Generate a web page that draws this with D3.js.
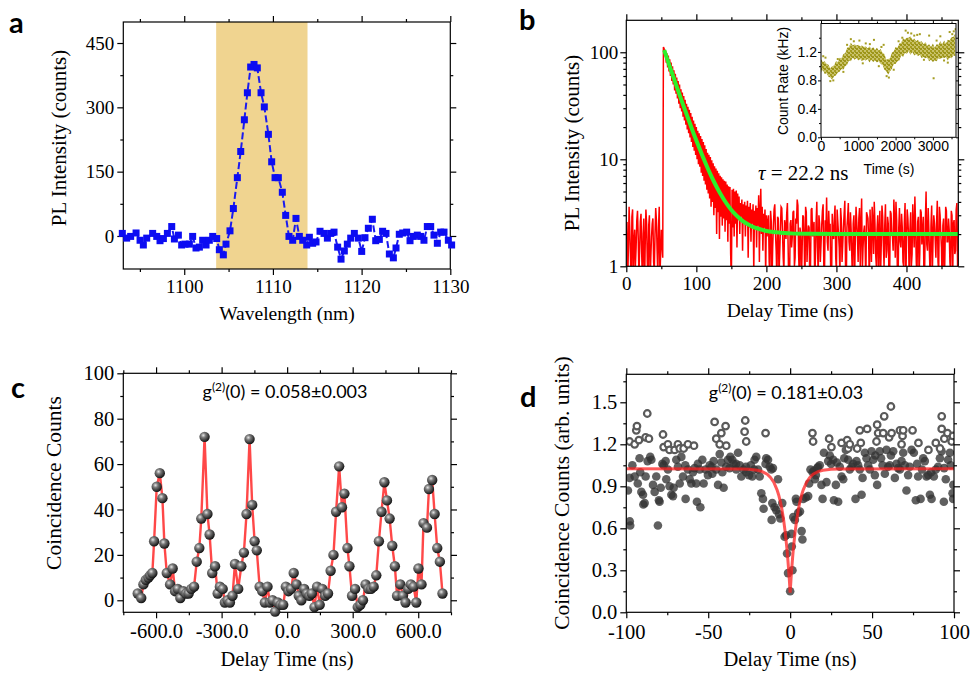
<!DOCTYPE html>
<html>
<head>
<meta charset="utf-8">
<script src="https://cdn.jsdelivr.net/npm/d3@7"></script>
<style>
  body { margin: 0; background: #fff; }
</style>
</head>
<body>
<svg id="fig" width="971" height="673"></svg>
<script>

// ---------- panel a : PL spectrum ----------
var aWave = [1093.02,1093.51,1093.96,1094.57,1095.02,1095.39,1095.77,1096.44,1096.90,1097.27,
  1097.65,1098.10,1098.59,1098.89,1099.34,1099.71,1100.09,1100.58,1100.95,1101.33,
  1101.71,1102.08,1102.46,1102.83,1103.21,1103.66,1103.96,1104.41,1104.71,1105.16,
  1105.54,1105.99,1106.37,1106.78,1107.12,1107.49,1107.87,1108.24,1108.66,1109.03,
  1109.49,1109.86,1110.24,1110.61,1111.06,1111.44,1111.81,1112.23,1112.60,1112.98,
  1113.36,1113.81,1114.11,1114.48,1114.86,1115.31,1115.76,1116.14,1116.51,1116.89,
  1117.30,1117.68,1118.05,1118.39,1118.77,1119.18,1119.63,1120.01,1120.38,1120.76,
  1121.21,1121.59,1122.00,1122.37,1122.75,1123.13,1123.58,1123.88,1124.25,1124.63,
  1125.08,1125.46,1125.83,1126.28,1126.66,1127.03,1127.41,1127.79,1128.16,1128.54,
  1128.91,1129.29,1129.78,1130.15];
var aCounts = [6,-5,-1,7,-10,-21,-5,6,-1,-11,
  -6,6,22,-7,2,-21,-19,-19,-1,-28,
  -26,-10,-21,-10,-1,-6,-32,-44,-19,12,
  64,136,197,271,334,394,400,392,334,301,
  237,173,136,136,102,48,-1,-10,41,-1,
  -10,-21,-3,-17,-14,11,6,-5,6,9,
  -26,-54,-35,-19,-5,6,-5,-36,-4,18,
  39,-11,-8,11,6,-42,-51,-28,4,7,
  9,-11,-1,2,-1,-10,22,22,2,-17,
  9,9,-10,-21];
var aBand = [1103.6, 1113.9];

// ---------- panel b : PL decay histogram, 1 ns bins starting at 0 ns ----------
var bBinNs = 1;
var bCounts = [
  // 0 - 51 ns, background before the pulse
  1.8,2.6,0.7,1.5,3.6,2.2,1.2,0.6,2.9,3.4,0.6,1.7,2.2,1.0,1.5,2.7,3.3,1.9,0.8,1.4,
  2.6,3.1,1.3,0.7,2.0,2.8,0.6,1.6,3.4,2.5,1.1,0.7,2.4,3.0,0.7,1.2,1.9,2.5,2.8,1.1,
  0.9,2.0,3.5,2.7,1.4,0.8,2.3,3.6,0.8,1.3,2.2,1.6,
  // 52 - 53 ns, rising edge
  1.2,112,
  // 54 - 200 ns, decay
  108,92,104,80,98,72,93,66,86,60,80,54,74,50,68,44,63,41,58,37,
  54,33,50,30,45,28,42,25,39,23,36,21,33,19,31,17.5,29,16,27,14.5,
  25,13,23,12,21.5,11,20,10,18.5,9,17.5,8.5,16.5,7.5,15.5,7.0,14.5,6.3,13.5,5.8,
  12.5,5.2,11.5,4.8,11,4.3,10.5,3.6,9.8,4.0,9.2,3.0,8.6,3.5,8.2,2.0,7.8,3.2,7.4,1.8,
  7.0,2.9,6.8,2.4,6.5,2.8,6.3,2.1,6.2,2.7,5.8,1.7,5.6,2.5,5.5,1.3,0.7,5.2,2.3,5.3,
  1.9,5.0,2.5,5.1,1.5,4.8,2.7,4.5,2.0,3.9,2.9,4.2,1.4,3.8,2.5,4.0,1.9,3.7,2.6,4.1,
  1.2,3.6,2.3,3.9,1.7,3.4,2.5,3.8,0.9,3.3,2.2,3.7,1.5,3.5,2.4,4.6,1.1,3.2,5.3,2.0,
  3.6,1.4,3.1,2.3,3.4,0.8,3.0,
  // 201 - 474 ns, background tail
  1.9,2.6,3.0,1.1,0.8,3.3,2.6,0.7,1.5,2.4,3.4,3.8,2.0,1.4,0.7,2.9,2.8,0.8,1.3,2.2,
  3.6,3.5,2.1,1.2,0.9,2.7,2.4,1.8,3.1,3.9,1.6,0.6,0.6,2.5,2.7,1.5,1.9,3.2,3.3,1.0,
  1.2,2.8,2.5,4.2,3.7,1.3,0.8,2.3,2.0,0.7,1.4,3.0,2.9,1.7,0.6,3.6,3.2,1.1,1.8,2.4,
  2.3,0.6,1.0,3.4,3.5,1.9,2.2,2.6,0.7,1.2,2.6,4.0,1.5,0.8,3.0,2.5,1.1,1.6,2.4,3.3,
  3.8,1.0,0.9,2.7,2.1,4.4,1.7,1.4,3.3,2.1,2.5,0.7,0.6,3.1,1.9,1.8,2.8,3.7,1.2,0.9,
  3.4,2.6,2.0,1.5,0.8,3.5,2.7,1.1,1.6,2.3,3.1,4.1,1.0,0.6,2.3,2.9,3.9,1.7,1.4,3.2,
  2.2,1.2,0.7,2.5,3.0,0.8,1.8,3.6,2.6,1.9,1.1,2.8,3.5,1.0,2.4,4.3,0.9,1.5,2.1,2.4,
  1.5,0.7,3.2,3.0,2.8,1.8,0.6,3.4,1.9,1.1,3.6,2.6,1.3,4.0,2.5,1.3,1.0,2.2,3.0,0.6,
  2.2,3.3,0.8,1.6,3.7,2.9,1.6,1.0,2.4,3.8,1.2,1.4,2.9,2.5,0.7,0.8,3.3,3.1,2.0,1.9,
  1.4,4.2,2.7,1.2,4.0,2.7,0.9,0.7,2.3,3.5,1.7,1.5,3.1,2.3,1.1,1.0,2.6,3.9,0.6,1.7,
  3.4,2.8,1.9,0.6,2.2,3.2,1.0,1.3,3.8,2.4,1.5,4.5,2.5,1.1,0.8,2.6,2.9,0.8,1.3,3.4,
  3.2,1.6,2.1,2.9,0.7,1.0,2.7,5.0,1.6,1.4,3.5,2.2,1.2,0.7,2.4,3.7,0.9,1.8,3.0,2.5,
  1.8,1.2,2.6,4.1,1.1,0.9,3.6,3.0,2.0,1.5,0.6,2.4,2.8,0.6,1.4,3.6,3.3,1.7,1.7,2.8,
  2.2,1.1,0.9,3.3,3.0,0.8,2.5,2.7,1.3,1.4,3.4,3.9,1.0,1.2];
// fitted mono-exponential (tau = 22.2 ns)
var bFitT = [54,56,60,65,70,75,80,85,90,95,100,105,110,115,120,125,130,135,140,145,150,155,160,165,170,175,180,190,200,210,220,240,260,300,474];
var bFitV = [105,96.1,80.6,64.7,52.1,42.0,33.9,27.5,22.4,18.2,15.0,12.4,10.3,8.6,7.26,6.20,5.36,4.68,4.14,3.71,3.36,3.09,2.87,2.69,2.55,2.44,2.35,2.23,2.14,2.09,2.06,2.02,2.01,2.0,2.0];

// inset: count rate trace (envelope of the dense cloud, 50 s steps)
var insetT = [0,50,100,150,200,250,300,350,400,450,500,550,600,650,700,750,800,850,900,950,
  1000,1050,1100,1150,1200,1250,1300,1350,1400,1450,1500,1550,1600,1650,1700,1750,1800,1850,1900,1950,
  2000,2050,2100,2150,2200,2250,2300,2350,2400,2450,2500,2550,2600,2650,2700,2750,2800,2850,2900,2950,
  3000,3050,3100,3150,3200,3250,3300,3350,3400,3450,3500,3550,3600];
var insetLo = [0.91,0.95,0.89,0.90,0.85,0.84,0.81,0.86,0.87,0.91,0.92,0.96,0.95,1.00,1.02,1.08,1.07,1.12,1.09,1.11,
  1.08,1.10,1.07,1.09,1.08,1.10,1.05,1.09,1.06,1.08,1.05,1.07,1.03,1.02,0.95,0.93,0.88,0.93,0.96,1.03,
  1.03,1.07,1.08,1.15,1.13,1.19,1.17,1.21,1.16,1.20,1.15,1.17,1.14,1.16,1.11,1.13,1.11,1.12,1.07,1.09,
  1.06,1.08,1.07,1.11,1.10,1.12,1.11,1.13,1.08,1.12,1.11,1.15,1.14];
var insetHi = [1.10,1.06,1.07,1.03,1.02,0.97,1.00,1.01,1.07,1.06,1.12,1.11,1.17,1.18,1.26,1.27,1.33,1.29,1.31,1.29,
  1.30,1.28,1.29,1.27,1.28,1.25,1.28,1.24,1.27,1.23,1.26,1.22,1.24,1.19,1.17,1.09,1.10,1.11,1.19,1.21,
  1.27,1.26,1.32,1.33,1.39,1.38,1.40,1.40,1.42,1.37,1.39,1.35,1.37,1.34,1.35,1.31,1.34,1.29,1.31,1.27,
  1.32,1.26,1.31,1.30,1.35,1.31,1.36,1.32,1.37,1.36,1.41,1.41,1.46];
var insetOddT = [60,120,250,330,450,600,700,800,880,1030,1120,1200,1310,1420,1550,1620,1680,1760,1820,1950,
  2080,2180,2270,2330,2420,2500,2580,2650,2760,2900,3020,3100,3200,3300,3400,3450,3520,3560,3610];
var insetOddV = [1.14,1.12,0.79,0.80,1.10,0.92,1.30,1.38,1.35,1.36,1.04,1.32,1.31,1.37,1.00,1.27,1.30,0.86,0.84,0.95,
  1.35,1.40,1.50,1.47,1.46,1.43,1.44,1.45,1.09,1.43,0.83,1.36,1.42,1.08,1.05,1.48,1.45,1.49,1.52];

// ---------- panel c : g2 with pulsed excitation ----------
var cT = [-684,-668,-658,-647,-635,-627,-617,-609,-597,-583,
  -571,-562,-551,-536,-524,-513,-501,-489,-475,-463,
  -451,-439,-426,-414,-402,-393,-378,-365,-355,-343,
  -330,-318,-308,-295,-285,-273,-262,-250,-239,-224,
  -210,-198,-186,-172,-160,-149,-139,-126,-114,-102,
  -90,-79,-67,-55,-43,-30,-18,-6,6,18,
  30,43,53,65,78,90,102,113,125,137,
  149,161,174,187,199,212,224,238,251,262,
  276,285,297,311,323,335,347,359,372,384,
  396,408,420,432,445,457,469,481,493,503,
  518,530,542,554,566,579,591,601,615,624,
  640,649,664,675,687,699,711];
var cCounts = [3,1,7,9,10,11,12,26,50,56,
  45,25,12,7,14,4,5,1,4,3,
  3,5,6,17,23,36,72,38,29,12,
  15,3,6,5,-1,0,-1,2,16,5,
  15,21,38,71,42,26,22,6,4,-1,
  6,-1,0,-5,-1,-2,-2,6,4,5,
  12,7,2,0,5,3,2,3,-3,6,
  -2,5,2,3,13,20,39,59,41,47,
  23,15,2,5,-3,-2,0,7,5,5,
  6,11,26,39,52,44,36,24,15,2,
  7,2,-1,5,7,6,-1,14,7,34,
  32,49,53,38,23,17,3];

// ---------- panel d : g2 with cw excitation ----------
var dSolidT = [-99,-98,-97.9,-97.6,-96.3,-94.9,-93,-91.9,-91.5,-90.8,-89.8,-89.6,-88.8,-88.2,-87,-85.4,-84.7,-83.7,-82.7,-81.7,
  -80.7,-80.1,-79.7,-79,-78,-77.2,-76,-75.6,-74.6,-73.6,-72.5,-71.5,-71.1,-69.5,-68.5,-67.4,-66.4,-65.4,-64,-63.8,
  -62.4,-61.3,-60.3,-59.3,-58.3,-57.3,-56.9,-56.3,-55.2,-54.8,-53.6,-52.8,-51.6,-50.2,-49.1,-48,-47.5,-46.7,-45.1,-44,
  -43,-42,-41.4,-40.6,-39,-38,-37,-36.5,-35.3,-34.5,-33,-32.9,-31.8,-30.8,-29.8,-28.4,-27,-26.8,-25.1,-24,
  -23.1,-22,-21.7,-20.7,-19.6,-18.6,-17.6,-16.6,-16.2,-15,-14.6,-13.5,-12.5,-11.5,-11.3,-10.9,-10.5,-9.5,-8.5,-7.4,
  -6.8,-6,-4.8,-3.4,-2.4,-1.9,-1.3,0,
  0.8,1.0,1.4,1.9,2.9,3.5,3.9,4.9,6,7,7.5,8,9.6,11,11.6,12.4,13.7,14.5,15.1,15.7,
  16.5,17.1,18.1,19.1,19.8,20.6,22.2,23.2,24.2,25,26.3,26.7,27.9,28.5,29.3,30.3,31.4,32.4,33,34,
  35.4,36.4,37.5,38.5,39.9,40.5,41.5,42.5,43.6,44.2,45.6,46.6,47.6,48.6,49.7,50.7,51.7,52,53.1,54.7,
  55.5,56.4,57.8,58.8,59.8,60.8,61.5,62.9,63.9,64.9,65.9,67,68,69,70,71,72,73,74.1,75.5,
  76.7,77.5,78.1,79.6,80.5,81.2,82.2,83.2,84.3,85.3,86,86.3,87.7,88.9,90.3,91.4,92.4,93.8,94,95,
  96.4,97.5,98,99.1,99.5,99.6];
var dSolidV = [0.87,0.96,0.65,0.62,1.05,0.97,0.92,1.10,1.00,0.86,0.84,0.77,0.78,0.97,1.08,1.11,1.09,0.91,0.86,0.97,
  0.62,0.80,0.79,0.89,1.06,1.05,1.08,0.95,1.02,0.90,0.84,0.83,0.89,1.09,1.04,0.92,1.11,0.97,1.05,0.81,
  1.02,0.95,0.92,1.00,1.03,0.92,0.79,1.06,1.02,0.75,1.09,0.92,1.02,0.98,1.05,1.04,0.99,1.08,1.02,0.91,
  1.13,1.07,1.00,0.89,1.04,1.09,1.03,1.11,1.09,1.06,1.06,1.02,1.14,1.05,0.97,1.02,1.04,1.00,0.98,1.05,
  0.97,1.02,1.09,1.11,1.02,0.97,0.85,0.81,0.74,1.06,1.10,1.09,1.04,1.02,0.66,0.78,1.03,0.75,0.73,0.95,
  0.70,0.67,0.78,0.54,0.55,0.42,0.28,0.15,
  0.56,0.47,0.30,0.68,0.66,0.81,0.79,0.71,0.72,0.58,0.52,0.81,0.82,0.83,0.92,1.02,1.00,1.01,0.95,0.98,
  1.03,1.04,1.05,0.91,0.81,1.14,0.93,1.08,1.12,1.06,1.09,0.80,0.91,1.07,0.79,1.04,0.97,0.95,1.10,1.16,
  1.09,1.02,1.04,1.06,0.81,1.08,1.05,1.02,0.84,0.96,1.14,1.10,1.05,1.02,1.15,1.09,0.98,1.12,0.91,1.15,
  1.10,1.05,0.99,1.16,1.04,1.05,1.12,1.15,0.96,1.06,1.03,1.02,1.08,1.14,1.05,0.87,0.98,1.04,1.16,1.14,
  0.80,1.06,0.97,0.81,1.02,1.10,1.08,0.97,0.98,0.84,1.00,0.81,0.97,1.02,1.04,1.10,1.15,0.79,1.03,0.95,
  1.09,1.14,1.05,0.85,0.81,0.91];
var dOpenT = [-98,-94.9,-93.9,-93.5,-92.3,-88.2,-87.2,-86.2,-77.6,-77.2,-74.6,-73.6,-70.5,-68.5,-67.4,-65,-62.4,-58.7,
  -46.1,-45.1,-43,-42,-39.4,-39,-27.8,-27.4,-26.8,-15,
  13.6,14,23.8,25.2,31.4,34.8,35.4,36.4,40.9,42.5,43.1,47,52.7,53.1,53.7,56.8,57.4,60.4,61.5,61.9,
  67,68,68.6,69,74.7,78.3,84.4,88.9,91.5,92.5,92.5,94.1,96,98.6,99.4];
var dOpenV = [1.22,1.20,1.30,1.33,1.23,1.25,1.42,1.24,1.27,1.18,1.20,1.16,1.16,1.20,1.17,1.17,1.20,1.19,
  1.36,1.24,1.20,1.28,1.33,1.19,1.29,1.37,1.22,1.28,
  1.28,1.22,1.24,1.18,1.21,1.23,1.17,1.20,1.17,1.30,1.21,1.31,1.22,1.34,1.28,1.28,1.40,1.25,1.47,1.28,
  1.30,1.20,1.26,1.30,1.30,1.21,1.16,1.21,1.17,1.40,1.31,1.24,1.28,1.22,1.26];
// fitted antibunching dip
var dFitT = [-100,-30,-25,-20,-17,-14,-12,-10,-8,-7,-6,-5,-4,-3,-2,-1.5,-1,-0.5,0,0.5,1,1.5,2,3,4,5,6,7,8,10,12,14,17,20,25,30,100];
var dFitV = [1.025,1.024,1.022,1.015,1.005,0.986,0.963,0.929,0.875,0.838,0.791,0.734,0.661,0.571,0.458,0.390,0.316,0.233,0.14,
  0.233,0.316,0.390,0.458,0.571,0.661,0.734,0.791,0.838,0.875,0.929,0.963,0.986,1.005,1.015,1.022,1.024,1.025];

var serif = "'Liberation Serif', 'Times New Roman', serif";
var sans = "'Liberation Sans', Arial, sans-serif";
var svg = d3.select("#fig");
var defs = svg.append("defs");

// Draw a closed frame with outward major/minor ticks on all four sides
function drawFrame(x, y, o) {
    var xr = x.range(), yr = y.range();
    var g = svg.append("g");
    var blank = function() { return ""; };
    var sides = [
        { axis: d3.axisBottom, s: x, major: o.xMajor, minor: o.xMinor, fmt: o.xFmt, pad: o.xPad, pos: "translate(0," + yr[0] + ")" },
        { axis: d3.axisTop, s: x, major: o.xMajor, minor: o.xMinor, fmt: blank, pad: 3, pos: "translate(0," + yr[1] + ")" },
        { axis: d3.axisLeft, s: y, major: o.yMajor, minor: o.yMinor, fmt: o.yFmt, pad: o.yPad, pos: "translate(" + xr[0] + ",0)" },
        { axis: d3.axisRight, s: y, major: o.yMajor, minor: o.yMinor, fmt: blank, pad: 3, pos: "translate(" + xr[1] + ",0)" }
    ];
    sides.forEach(function(d) {
        g.append("g").attr("transform", d.pos)
            .call(d.axis(d.s).tickValues(d.major).tickSize(o.tick).tickPadding(d.pad).tickFormat(d.fmt));
        g.append("g").attr("transform", d.pos)
            .call(d.axis(d.s).tickValues(d.minor).tickSize(o.minorTick).tickFormat(blank));
    });
    g.selectAll(".domain").remove();
    g.selectAll(".tick line").attr("stroke", "#000").attr("stroke-width", o.lw);
    g.selectAll(".tick text")
        .attr("font-family", o.font)
        .attr("font-size", o.size)
        .attr("fill", "#000");
    g.append("rect")
        .attr("x", xr[0]).attr("y", yr[1])
        .attr("width", xr[1] - xr[0]).attr("height", yr[0] - yr[1])
        .attr("fill", "none").attr("stroke", "#000").attr("stroke-width", o.lw);
    return g;
}

function clipTo(id, x, y) {
    var xr = x.range(), yr = y.range();
    defs.append("clipPath").attr("id", id).append("rect")
        .attr("x", xr[0]).attr("y", yr[1])
        .attr("width", xr[1] - xr[0]).attr("height", yr[0] - yr[1]);
    return "url(#" + id + ")";
}

function axisTitle(x, y, text, rotate, size) {
    svg.append("text")
        .attr("transform", "translate(" + x + "," + y + ")" + (rotate ? " rotate(-90)" : ""))
        .attr("text-anchor", "middle")
        .attr("font-family", serif)
        .attr("font-size", size)
        .text(text);
}

function panelLetter(x, y, t) {
    svg.append("text").attr("x", x).attr("y", y)
        .attr("font-family", "Lato, 'Open Sans', sans-serif")
        .attr("font-weight", "bold")
        .attr("font-size", 29)
        .text(t);
}

function g2Label(cx, y, value) {
    var t = svg.append("text").attr("x", cx).attr("y", y)
        .attr("text-anchor", "middle")
        .attr("font-family", "Lato, 'Open Sans', sans-serif")
        .attr("font-size", 18);
    t.append("tspan").text("g");
    t.append("tspan").attr("dy", -7).attr("font-size", 12).text("(2)");
    t.append("tspan").attr("dy", 7).text("(0) = " + value);
}

function opts(size, extra) {
    return Object.assign({ tick: 6, minorTick: 3, lw: 1.2, font: serif, size: size }, extra);
}

// ================= panel a =================
var ax = d3.scaleLinear().domain([1093.13, 1130]).range([123.3, 450.3]);
var ay = d3.scaleLinear().domain([-77, 499]).range([269, 22]);

svg.append("rect")
    .attr("x", ax(aBand[0])).attr("y", 22)
    .attr("width", ax(aBand[1]) - ax(aBand[0])).attr("height", 247)
    .attr("fill", "#f0d490");

drawFrame(ax, ay, opts(19, {
    xMajor: [1100, 1110, 1120, 1130], xMinor: [1095, 1105, 1115, 1125], xFmt: d3.format("d"), xPad: 5,
    yMajor: [0, 150, 300, 450], yMinor: [75, 225, 375], yFmt: d3.format("d"), yPad: 3
}));

var aData = aWave.map(function(w, i) { return { w: w, v: aCounts[i] }; });
svg.append("path").datum(aData)
    .attr("fill", "none").attr("stroke", "#1a1af0").attr("stroke-width", 2)
    .attr("stroke-dasharray", "7,3")
    .attr("d", d3.line().x(function(d) { return ax(d.w); }).y(function(d) { return ay(d.v); }));
svg.append("g").selectAll("rect").data(aData).enter().append("rect")
    .attr("x", function(d) { return ax(d.w) - 3.5; })
    .attr("y", function(d) { return ay(d.v) - 3.5; })
    .attr("width", 7).attr("height", 7)
    .attr("fill", "#0c0cf2");

axisTitle(66, 138, "PL Intensity (counts)", true, 21);
axisTitle(287, 320, "Wavelength (nm)", false, 19.5);
panelLetter(9, 33, "a");

// ================= panel b =================
var bx = d3.scaleLinear().domain([0, 474]).range([626.3, 958.3]);
var by = d3.scaleLog().domain([1, 199]).range([266.3, 20.3]);
var bClip = clipTo("clipB", bx, by);

var bData = bCounts.map(function(v, i) { return { t: i * bBinNs, v: v }; });
svg.append("path").datum(bData)
    .attr("clip-path", bClip)
    .attr("fill", "none").attr("stroke", "#ff0000").attr("stroke-width", 1.5)
    .attr("d", d3.line().x(function(d) { return bx(d.t); }).y(function(d) { return by(d.v); }));

var bFit = bFitT.map(function(t, i) { return { t: t, v: bFitV[i] }; });
svg.append("path").datum(bFit)
    .attr("clip-path", bClip)
    .attr("fill", "none").attr("stroke", "#2cf02c").attr("stroke-width", 4)
    .attr("d", d3.line().curve(d3.curveMonotoneX).x(function(d) { return bx(d.t); }).y(function(d) { return by(d.v); }));

drawFrame(bx, by, opts(19, {
    xMajor: [0, 100, 200, 300, 400], xMinor: [50, 150, 250, 350, 450], xFmt: d3.format("d"), xPad: 4,
    yMajor: [1, 10, 100], yMinor: [2, 3, 4, 5, 6, 7, 8, 9, 20, 30, 40, 50, 60, 70, 80, 90], yFmt: d3.format("d"), yPad: 2
}));

var tau = svg.append("text").attr("x", 758).attr("y", 180)
    .attr("font-family", serif).attr("font-size", 21);
tau.append("tspan").attr("font-style", "italic").text("τ");
tau.append("tspan").text(" = 22.2 ns");

axisTitle(579, 143, "PL Intensity (counts)", true, 21);
axisTitle(790, 317, "Delay Time (ns)", false, 19.5);
panelLetter(519, 30, "b");

// ---- inset ----
var ix = d3.scaleLinear().domain([0, 3620]).range([821, 956]);
var iy = d3.scaleLinear().domain([0, 1.6]).range([137.3, 23.5]);
svg.append("rect").attr("x", 821).attr("y", 23.5).attr("width", 135).attr("height", 113.8).attr("fill", "#fff");
var iClip = clipTo("clipI", ix, iy);

// speckle texture so the band reads as a cloud of dots
var speckle = defs.append("pattern").attr("id", "speckle")
    .attr("patternUnits", "userSpaceOnUse").attr("width", 4).attr("height", 4);
speckle.append("rect").attr("width", 4).attr("height", 4).attr("fill", "#c9c26a");
speckle.append("rect").attr("x", 0).attr("y", 0).attr("width", 2).attr("height", 2).attr("fill", "#9c941a");
speckle.append("rect").attr("x", 2).attr("y", 2).attr("width", 2).attr("height", 2).attr("fill", "#a49c20");
speckle.append("rect").attr("x", 3).attr("y", 0).attr("width", 1).attr("height", 1).attr("fill", "#9c941a");

var iData = insetT.map(function(t, i) { return { t: t, lo: insetLo[i], hi: insetHi[i] }; });
svg.append("path").datum(iData)
    .attr("clip-path", iClip)
    .attr("fill", "url(#speckle)")
    .attr("d", d3.area()
        .x(function(d) { return ix(d.t); })
        .y0(function(d) { return iy(d.lo); })
        .y1(function(d) { return iy(d.hi); }));
svg.append("g").attr("clip-path", iClip).selectAll("rect")
    .data(insetOddT.map(function(t, i) { return { t: t, v: insetOddV[i] }; }))
    .enter().append("rect")
    .attr("x", function(d) { return ix(d.t) - 1; })
    .attr("y", function(d) { return iy(d.v) - 1; })
    .attr("width", 2).attr("height", 2)
    .attr("fill", "#a59d22");
drawFrame(ix, iy, {
    tick: 3, minorTick: 2, lw: 1, font: sans, size: 14,
    xMajor: [0, 1000, 2000, 3000], xMinor: [500, 1500, 2500, 3500], xFmt: d3.format("d"), xPad: 1,
    yMajor: [0, 0.4, 0.8, 1.2], yMinor: [0.2, 0.6, 1.0, 1.4], yFmt: d3.format(".1f"), yPad: 1
});
svg.append("text")
    .attr("transform", "translate(788,81) rotate(-90)")
    .attr("text-anchor", "middle").attr("font-family", sans).attr("font-size", 14)
    .text("Count Rate (kHz)");
svg.append("text").attr("x", 889).attr("y", 174)
    .attr("text-anchor", "middle").attr("font-family", sans).attr("font-size", 14)
    .text("Time (s)");

// ================= panel c =================
var cx = d3.scaleLinear().domain([-750, 750]).range([123.3, 451]);
var cy = d3.scaleLinear().domain([-5.3, 100]).range([612.3, 373.3]);

var sphere = defs.append("radialGradient").attr("id", "sphere")
    .attr("cx", "38%").attr("cy", "35%").attr("r", "65%");
sphere.append("stop").attr("offset", "0%").attr("stop-color", "#e6e6e6");
sphere.append("stop").attr("offset", "35%").attr("stop-color", "#7a7a7a");
sphere.append("stop").attr("offset", "100%").attr("stop-color", "#141414");

drawFrame(cx, cy, opts(20.5, {
    xMajor: [-600, -300, 0, 300, 600], xMinor: [-750, -450, -150, 150, 450, 750],
    xFmt: function(d) { return d.toFixed(1); }, xPad: 5,
    yMajor: [0, 20, 40, 60, 80, 100], yMinor: [10, 30, 50, 70, 90], yFmt: d3.format("d"), yPad: 3
}));

var cData = cT.map(function(t, i) { return { t: t, v: cCounts[i] }; });
svg.append("path").datum(cData)
    .attr("fill", "none").attr("stroke", "#ff3434").attr("stroke-opacity", 0.9).attr("stroke-width", 2.4)
    .attr("d", d3.line().x(function(d) { return cx(d.t); }).y(function(d) { return cy(d.v); }));
svg.append("g").selectAll("circle").data(cData).enter().append("circle")
    .attr("cx", function(d) { return cx(d.t); })
    .attr("cy", function(d) { return cy(d.v); })
    .attr("r", 5.2)
    .attr("fill", "url(#sphere)");

g2Label(285, 398, "0.058±0.003");
axisTitle(61, 483, "Coincidence Counts", true, 21.5);
axisTitle(287, 666, "Delay Time (ns)", false, 20.5);
panelLetter(11, 398, "c");

// ================= panel d =================
var dx = d3.scaleLinear().domain([-100, 100]).range([626.3, 954]);
var dy = d3.scaleLinear().domain([0, 1.7]).range([612.3, 374.3]);
var dClip = clipTo("clipD", dx, dy);

var dPts = svg.append("g").attr("clip-path", dClip);
dPts.selectAll("circle.solid")
    .data(dSolidT.map(function(t, i) { return { t: t, v: dSolidV[i] }; }))
    .enter().append("circle").attr("class", "solid")
    .attr("cx", function(d) { return dx(d.t); })
    .attr("cy", function(d) { return dy(d.v); })
    .attr("r", 4.3)
    .attr("fill", "#333").attr("fill-opacity", 0.78);
dPts.selectAll("circle.open")
    .data(dOpenT.map(function(t, i) { return { t: t, v: dOpenV[i] }; }))
    .enter().append("circle").attr("class", "open")
    .attr("cx", function(d) { return dx(d.t); })
    .attr("cy", function(d) { return dy(d.v); })
    .attr("r", 3.3)
    .attr("fill", "#fff").attr("stroke", "#5a5a5a").attr("stroke-width", 2.2);

svg.append("path").datum(dFitT.map(function(t, i) { return { t: t, v: dFitV[i] }; }))
    .attr("clip-path", dClip)
    .attr("fill", "none").attr("stroke", "#ff2020").attr("stroke-opacity", 0.75).attr("stroke-width", 3)
    .attr("d", d3.line().x(function(d) { return dx(d.t); }).y(function(d) { return dy(d.v); }));

drawFrame(dx, dy, opts(20.5, {
    xMajor: [-100, -50, 0, 50, 100], xMinor: [-75, -25, 25, 75], xFmt: function(d) { return String(d); }, xPad: 6,
    yMajor: [0, 0.3, 0.6, 0.9, 1.2, 1.5], yMinor: [0.15, 0.45, 0.75, 1.05, 1.35, 1.65],
    yFmt: function(d) { return d.toFixed(1); }, yPad: 3
}));

g2Label(786, 399, "0.181±0.03");
axisTitle(569, 493, "Coincidence Counts (arb. units)", true, 21.5);
axisTitle(790, 666, "Delay Time (ns)", false, 20.5);
panelLetter(520, 407, "d");

</script>
</body>
</html>
